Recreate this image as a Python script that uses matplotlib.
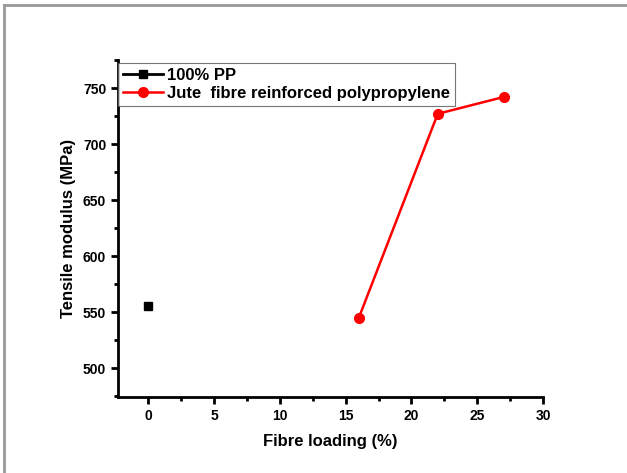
import matplotlib.pyplot as plt
from matplotlib.lines import Line2D

plt.rcParams['font.family'] = ['Liberation Sans', 'DejaVu Sans']
plt.rcParams['font.weight'] = 'bold'

pp_x = [0]
pp_y = [556]
jute_x = [16, 22, 27]
jute_y = [545, 727, 742]

fig = plt.figure(figsize=(6.27, 4.73), dpi=100)
ax = fig.add_axes([118 / 627, 1 - 397 / 473, (543 - 118) / 627, (397 - 60) / 473])

ax.plot(pp_x, pp_y, color='black', marker='s', markersize=6, lw=2, label='100% PP')
ax.plot(jute_x, jute_y, color='red', marker='o', markersize=7, lw=1.8,
        label='Jute  fibre reinforced polypropylene')

ax.set_xlim(-2.3, 30)
ax.set_ylim(474.5, 775)
ax.set_xticks([0, 5, 10, 15, 20, 25, 30])
ax.set_yticks([500, 550, 600, 650, 700, 750])
ax.set_xticks([2.5, 7.5, 12.5, 17.5, 22.5, 27.5], minor=True)
ax.set_yticks([475, 525, 575, 625, 675, 725, 775], minor=True)

for s in ['top', 'right']:
    ax.spines[s].set_visible(False)
for s in ['left', 'bottom']:
    ax.spines[s].set_linewidth(2)
ax.tick_params(which='major', direction='out', length=5, width=2, labelsize=10)
ax.tick_params(which='minor', direction='out', length=3, width=2)

ax.set_xlabel('Fibre loading (%)', fontsize=12, fontweight='bold', labelpad=8)
ax.set_ylabel('Tensile modulus (MPa)', fontsize=12, fontweight='bold', labelpad=5)

leg = ax.legend(loc='upper left', bbox_to_anchor=(0.0, 0.992), fontsize=12,
                frameon=True, fancybox=False, borderaxespad=0, handlelength=2.4,
                handletextpad=0.25, borderpad=0.3, labelspacing=0.2)
leg.get_frame().set_edgecolor('#555555')
leg.get_frame().set_linewidth(0.8)

# outer grey frame (left and top edges)
fig.add_artist(Line2D([4 / 627, 4 / 627], [0, 1 - 5 / 473], transform=fig.transFigure,
                      color='#999999', lw=2))
fig.add_artist(Line2D([4 / 627, 1], [1 - 5 / 473, 1 - 5 / 473], transform=fig.transFigure,
                      color='#999999', lw=2))

fig.savefig('out.png', dpi=100)
